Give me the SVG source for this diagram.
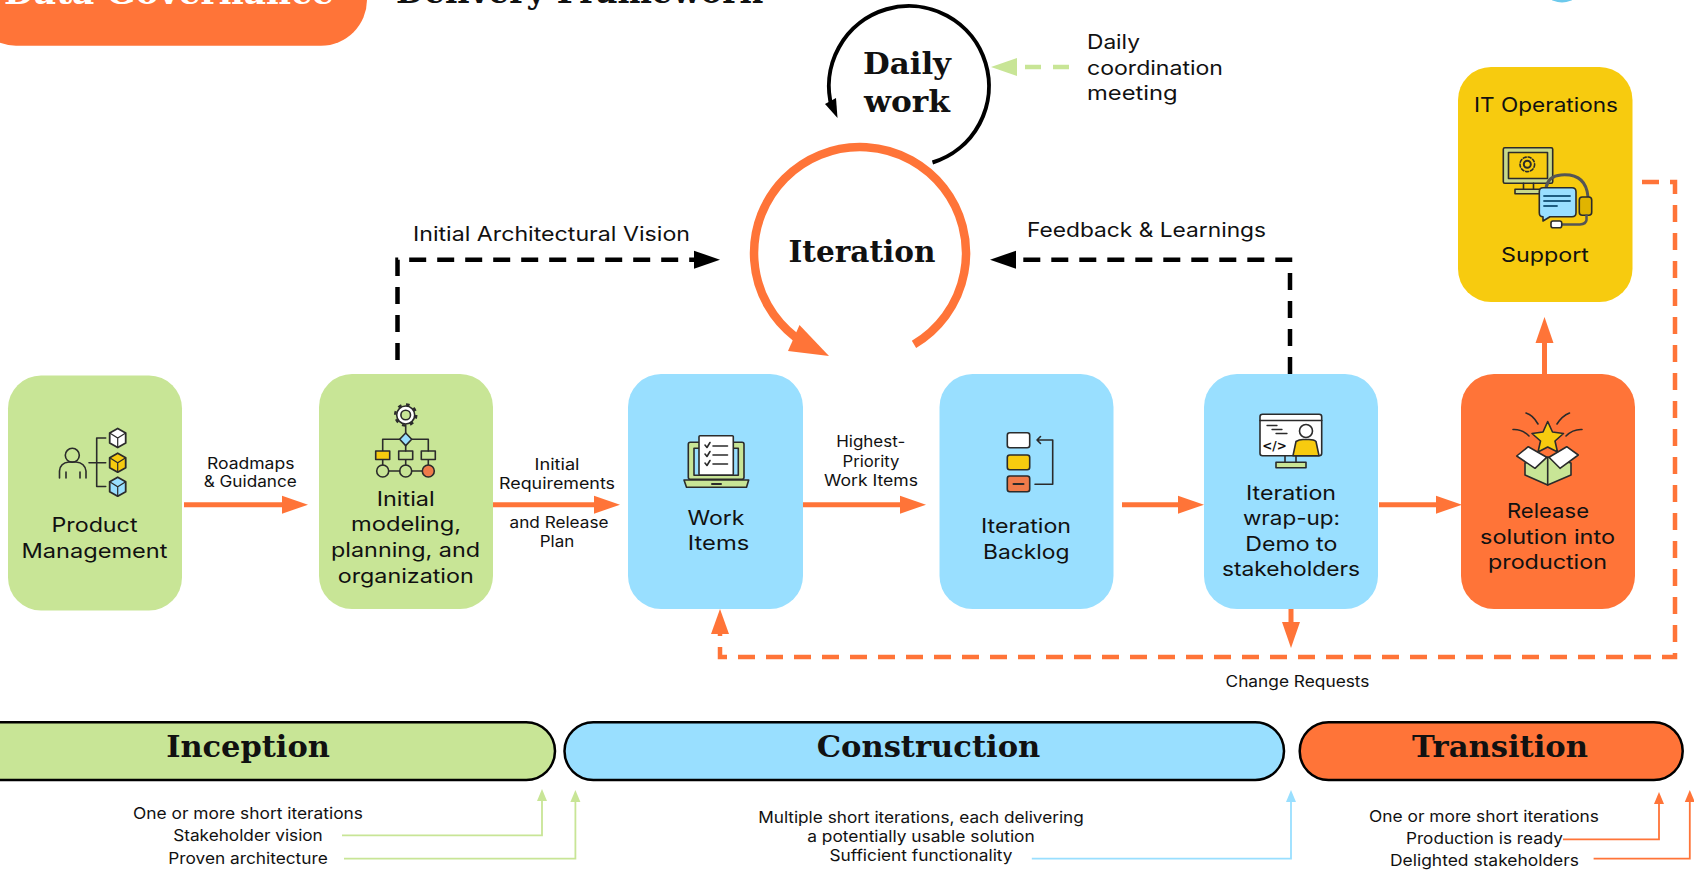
<svg xmlns="http://www.w3.org/2000/svg" xmlns:xlink="http://www.w3.org/1999/xlink" width="1694" height="870" viewBox="0 0 1694 870">
<style>
text{font-family:"Inter","Liberation Sans",sans-serif;fill:#111;text-anchor:middle;transform:translateY(-1px)}
.l{font-size:20px}
.s{font-size:15.5px}
.f{font-size:16px}
.st{text-anchor:start}
.h{font-family:"DejaVu Serif","Liberation Serif",serif;font-weight:700;font-size:30px}
.ttl{font-size:33px}
.ic{stroke:#2b2b2b;stroke-width:1.6;fill:none;stroke-linecap:round;stroke-linejoin:round}
.main{stroke:#ff7438;stroke-width:5;fill:none}
.dash-o{stroke:#ff7438;stroke-width:4.5;fill:none;stroke-dasharray:17 11}
.dash-k{stroke:#000;stroke-width:4.5;fill:none;stroke-dasharray:17 11}
.thin{stroke-width:1.8;fill:none}
.phase{stroke:#000;stroke-width:2.5}
.green{fill:#c8e596}.blue{fill:#99dfff}.orange{fill:#ff7438}.yellow{fill:#f7cb0f}
</style>
<defs>
<marker id="hO" markerUnits="userSpaceOnUse" markerWidth="27" markerHeight="20" refX="0" refY="9.5" orient="auto"><path d="M0 .5 26 9.5 0 18.500z" fill="#ff7438"/></marker>
<marker id="hK" markerUnits="userSpaceOnUse" markerWidth="27" markerHeight="20" refX="0" refY="9.5" orient="auto"><path d="M0 .5 26 9.5 0 18.500z" fill="#000"/></marker>
<marker id="hG" markerUnits="userSpaceOnUse" markerWidth="27" markerHeight="20" refX="0" refY="9.5" orient="auto"><path d="M0 .5 26 9.5 0 18.500z" fill="#c8e596"/></marker>
<marker id="tG" markerUnits="userSpaceOnUse" markerWidth="13" markerHeight="12" refX="0" refY="5.500" orient="auto"><path d="M0 .5 12 5.500 0 10.500z" fill="#c8e596"/></marker>
<marker id="tB" markerUnits="userSpaceOnUse" markerWidth="13" markerHeight="12" refX="0" refY="5.500" orient="auto"><path d="M0 .5 12 5.500 0 10.500z" fill="#99dfff"/></marker>
<marker id="tO" markerUnits="userSpaceOnUse" markerWidth="13" markerHeight="12" refX="0" refY="5.500" orient="auto"><path d="M0 .5 12 5.500 0 10.500z" fill="#ff7438"/></marker>
<g id="cube"><path d="M0-9.500 8-5V5L0 9.500-8 5V-5z" stroke="#2b2b2b" stroke-width="1.800" stroke-linejoin="round"/><path d="M-8-5 0 0 8-5M0 0V9.500" fill="none" stroke="#2b2b2b" stroke-width="1.200"/></g>
</defs>

<g id="title">
<rect x="-30" y="-60" width="397" height="105.700" rx="46" class="orange"/>
<text class="h ttl" x="169" y="5" style="fill:#fff" textLength="330" lengthAdjust="spacingAndGlyphs">Data Governance</text>
<text class="h ttl" x="579" y="4" textLength="366" lengthAdjust="spacingAndGlyphs">Delivery Framework</text>
<circle cx="1562" cy="-20" r="22.500" fill="#6cc9ec"/>
</g>

<g id="connectors">
<path class="main" d="M184 504.700H282" marker-end="url(#hO)"/>
<path class="main" d="M493 504.700H594" marker-end="url(#hO)"/>
<path class="main" d="M803 504.700H900" marker-end="url(#hO)"/>
<path class="main" d="M1122 504.700H1178" marker-end="url(#hO)"/>
<path class="main" d="M1379 504.700H1436" marker-end="url(#hO)"/>
<path class="main" d="M1544.500 374V343" marker-end="url(#hO)"/>
<path class="main" d="M1291 609V622" marker-end="url(#hO)"/>
<path class="dash-o" d="M1642 182H1675V657H720V634"/>
<path d="M720 609 711 634H729z" fill="#ff7438"/>
<path class="dash-k" d="M397.500 360V259.700H694" marker-end="url(#hK)"/>
<path class="dash-k" d="M1290 374V259.700H1016" marker-end="url(#hK)"/>
<path d="M1069 67H1017" stroke="#c8e596" stroke-width="4.500" stroke-dasharray="16 12" fill="none" marker-end="url(#hG)"/>
<path d="M932.500 162.500A80 80 0 1 0 832 108" stroke="#000" stroke-width="4" fill="none"/>
<path d="M837.500 118 825 104 836 98z" fill="#000"/>
<path d="M914 344.300A106 106 0 1 0 795.700 337.300" stroke="#ff7438" stroke-width="8.500" fill="none"/>
<path d="M829 356 788 351 799.500 325z" fill="#ff7438"/>
<path class="thin" stroke="#c8e596" d="M342 835.300H542V801" marker-end="url(#tG)"/>
<path class="thin" stroke="#c8e596" d="M344 858.700H575.400V802" marker-end="url(#tG)"/>
<path class="thin" stroke="#99dfff" d="M1031.800 858.700H1291V802" marker-end="url(#tB)"/>
<path class="thin" stroke="#ff7438" d="M1563 839.300H1659V804" marker-end="url(#tO)"/>
<path class="thin" stroke="#ff7438" d="M1593.600 858.700H1689.800V802" marker-end="url(#tO)"/>
</g>

<g id="connector-labels">
<text class="s" x="250.700" y="470" textLength="87.500" lengthAdjust="spacingAndGlyphs">Roadmaps</text>
<text class="s" x="250.200" y="488.400" textLength="93" lengthAdjust="spacingAndGlyphs">&amp; Guidance</text>
<text class="s" x="557" y="470.700" textLength="45" lengthAdjust="spacingAndGlyphs">Initial</text>
<text class="s" x="557" y="489.700" textLength="116" lengthAdjust="spacingAndGlyphs">Requirements</text>
<text class="s" x="559" y="529" textLength="99" lengthAdjust="spacingAndGlyphs">and Release</text>
<text class="s" x="557" y="548" textLength="34.500" lengthAdjust="spacingAndGlyphs">Plan</text>
<text class="s" x="870.700" y="448.400" textLength="69" lengthAdjust="spacingAndGlyphs">Highest-</text>
<text class="s" x="871" y="468" textLength="57" lengthAdjust="spacingAndGlyphs">Priority</text>
<text class="s" x="871" y="486.700" textLength="94" lengthAdjust="spacingAndGlyphs">Work Items</text>
<text class="s" x="1297.500" y="688" textLength="144" lengthAdjust="spacingAndGlyphs">Change Requests</text>
<text class="l" x="551.500" y="241.700" textLength="277" lengthAdjust="spacingAndGlyphs">Initial Architectural Vision</text>
<text class="l" x="1146.500" y="237.700" textLength="239" lengthAdjust="spacingAndGlyphs">Feedback &amp; Learnings</text>
<text class="l st" x="1087" y="50" textLength="53" lengthAdjust="spacingAndGlyphs">Daily</text>
<text class="l st" x="1087" y="76" textLength="136" lengthAdjust="spacingAndGlyphs">coordination</text>
<text class="l st" x="1087" y="101" textLength="90.600" lengthAdjust="spacingAndGlyphs">meeting</text>
</g>

<g id="daily-work">
<text class="h" x="907" y="75" textLength="88" lengthAdjust="spacingAndGlyphs">Daily</text>
<text class="h" x="907" y="112.700" textLength="86" lengthAdjust="spacingAndGlyphs">work</text>
</g>
<g id="iteration">
<text class="h" x="862" y="262.700" textLength="147" lengthAdjust="spacingAndGlyphs">Iteration</text>
</g>

<g id="product-management">
<rect x="8" y="375.500" width="174" height="235" rx="33" class="green"/>
<g class="ic">
<circle cx="72.300" cy="455.300" r="7"/>
<path d="M59.500 478V471Q60 463 69 462H76Q85 463 86 471V478M66 472V478M80 472V478"/>
<path d="M105.700 438H96.700V486.500H105.700M89 462.700H105.700"/>
</g>
<use href="#cube" x="117.700" y="438" fill="#fff"/>
<use href="#cube" x="117.700" y="462.700" fill="#f7cb0f"/>
<use href="#cube" x="117.700" y="486.700" fill="#99dfff"/>
<text class="l" x="94.500" y="532.700" textLength="86" lengthAdjust="spacingAndGlyphs">Product</text>
<text class="l" x="94.500" y="559" textLength="146" lengthAdjust="spacingAndGlyphs">Management</text>
</g>

<g id="initial-modeling">
<rect x="319" y="374" width="174" height="235" rx="33" class="green"/>
<g class="ic">
<circle cx="405.700" cy="415" r="10.500" stroke-width="2.500" stroke-dasharray="3.600 4.650" stroke-linecap="butt"/>
<circle cx="405.700" cy="415" r="9" fill="#fff"/>
<circle cx="405.700" cy="415" r="4.800" fill="#c8e596"/>
<path d="M405.700 425V433M382.700 451V439.300H428.300V451M405.700 445V451M382.700 460V465M405.700 460V465M428.300 460V465M388.700 471H399.700M411.700 471H422.300"/>
<path d="M405.700 433 411.700 439.300 405.700 445.600 399.700 439.300z" fill="#99dfff"/>
<rect x="375.700" y="451" width="14" height="8.500" fill="#f7cb0f"/>
<rect x="398.700" y="451" width="14" height="8.500"/>
<rect x="421.300" y="451" width="14" height="8.500"/>
<circle cx="382.700" cy="471" r="6"/>
<circle cx="405.700" cy="471" r="6"/>
<circle cx="428.300" cy="471" r="6" fill="#ef7b4a"/>
</g>
<text class="l" x="405.700" y="506.700" textLength="58" lengthAdjust="spacingAndGlyphs">Initial</text>
<text class="l" x="406" y="532.300" textLength="110" lengthAdjust="spacingAndGlyphs">modeling,</text>
<text class="l" x="405.500" y="558.300" textLength="149" lengthAdjust="spacingAndGlyphs">planning, and</text>
<text class="l" x="405.700" y="584" textLength="136" lengthAdjust="spacingAndGlyphs">organization</text>
</g>

<g id="work-items">
<rect x="628" y="374" width="175" height="235" rx="33" class="blue"/>
<g class="ic">
<rect x="688.300" y="442.300" width="55.700" height="37" rx="2" fill="#c8e596"/>
<rect x="694" y="448.300" width="44.300" height="27" fill="#99dfff"/>
<path d="M684 480H748.700L746.500 487.300H686.500z" fill="#c8e596"/>
<path d="M712 484H721" stroke-width="2"/>
<rect x="699" y="435.700" width="34.300" height="39.300" rx="1" fill="#fff"/>
<path d="M705 445 707 447.500 710 442.500M705 454 707 456.500 710 451.500M705 463 707 465.500 710 460.500M713 446H727.500M713 455H727.500M713 464H727.500"/>
</g>
<text class="l" x="716" y="526" textLength="57" lengthAdjust="spacingAndGlyphs">Work</text>
<text class="l" x="718.500" y="551" textLength="61.500" lengthAdjust="spacingAndGlyphs">Items</text>
</g>

<g id="iteration-backlog">
<rect x="939.500" y="374" width="174" height="235" rx="33" class="blue"/>
<g class="ic">
<rect x="1007.300" y="432.700" width="22.400" height="15" rx="2.500" fill="#fff"/>
<rect x="1007.300" y="455" width="22.400" height="14.700" rx="2.500" fill="#f7cb0f"/>
<rect x="1007.300" y="476" width="22.400" height="15.700" rx="2.500" fill="#ef7b4a"/>
<path d="M1013.500 484H1023.500" stroke-width="2"/>
<path d="M1035 484.300H1052.700V440H1037M1040.500 436.500 1037 440 1040.500 443.500"/>
</g>
<text class="l" x="1026" y="534" textLength="90" lengthAdjust="spacingAndGlyphs">Iteration</text>
<text class="l" x="1026.300" y="560" textLength="86.500" lengthAdjust="spacingAndGlyphs">Backlog</text>
</g>

<g id="iteration-wrap-up">
<rect x="1204" y="374" width="174" height="235" rx="33" class="blue"/>
<g class="ic">
<path d="M1285 456V462.300M1296 456V462.300"/>
<rect x="1276" y="462.300" width="30" height="5.500" fill="#c8e596"/>
<rect x="1260" y="414.300" width="61.700" height="41.400" rx="2.500" fill="#fff"/>
<path d="M1260 420.500H1321.700"/>
<path d="M1267 425.500H1277M1272 429.500H1282M1276 433.500H1287" stroke-width="1.300"/>
<path d="M1293 455.700 1296 441.500Q1299 439.500 1303 439.500H1309Q1314 439.500 1316 441.500L1319 455.700z" fill="#f7cb0f"/>
<circle cx="1306" cy="431" r="6.500" fill="#fff"/>
</g>
<text x="1274.500" y="451" style="font-size:12px;font-weight:700;font-family:'DejaVu Sans',sans-serif">&lt;/&gt;</text>
<text class="l" x="1291" y="501" textLength="90" lengthAdjust="spacingAndGlyphs">Iteration</text>
<text class="l" x="1291.500" y="526" textLength="97" lengthAdjust="spacingAndGlyphs">wrap-up:</text>
<text class="l" x="1291.300" y="552" textLength="92" lengthAdjust="spacingAndGlyphs">Demo to</text>
<text class="l" x="1291" y="577" textLength="138" lengthAdjust="spacingAndGlyphs">stakeholders</text>
</g>

<g id="release">
<rect x="1461" y="374" width="174" height="235" rx="33" class="orange"/>
<g class="ic">
<path d="M1526 413Q1533 415 1538 424M1569.500 413Q1562 416 1557 424M1513 429.500Q1522 429 1529 436M1582 429.500Q1573 429 1566 436"/>
<path d="M1547.700 457 1525 463V475L1547.700 485 1571 475V463z" fill="#c8e596"/>
<path d="M1547.700 458V485"/>
<path d="M1516.700 456 1528.300 446.700 1546.700 457.300 1535 468.300z" fill="#fff"/>
<path d="M1578.300 455 1566.700 446.700 1549 457.300 1560 468.300z" fill="#fff"/>
<path d="M1547.700 421.500 1552.500 432 1563.500 433.500 1555 441 1557.500 452 1547.700 447 1538 452 1540.500 441 1532 433.500 1543 432z" fill="#f7cb0f"/>
</g>
<text class="l" x="1548" y="519" textLength="82" lengthAdjust="spacingAndGlyphs">Release</text>
<text class="l" x="1547.500" y="545" textLength="135" lengthAdjust="spacingAndGlyphs">solution into</text>
<text class="l" x="1547.500" y="570" textLength="119" lengthAdjust="spacingAndGlyphs">production</text>
</g>

<g id="it-operations">
<rect x="1458" y="67" width="174.500" height="235" rx="33" class="yellow"/>
<g class="ic">
<rect x="1503.300" y="147.700" width="49.400" height="35.600" rx="1.500" fill="#c8d98a"/>
<rect x="1508.500" y="152.500" width="39" height="26" fill="#f7cb0f"/>
<circle cx="1527.300" cy="164.300" r="7.300" stroke-dasharray="3 2"/>
<circle cx="1527.300" cy="164.300" r="3.500" stroke-width="2"/>
<path d="M1523.500 183.300V189.300M1533.500 183.300V189.300"/>
<rect x="1515" y="189.300" width="28.300" height="4.500" fill="#c8d98a"/>
<path d="M1546 188Q1548 176 1561 175Q1586 173 1588 197" stroke="#555" stroke-width="3"/>
<rect x="1579.300" y="197" width="12.400" height="18.300" rx="3" fill="#e0b400"/>
<path d="M1586.500 215.300V220Q1586 224 1580 224.500H1562" stroke="#555" stroke-width="2.500"/>
<rect x="1551" y="221" width="10.700" height="6.700" rx="2" fill="#fff"/>
<path d="M1543 187.700H1572Q1576 187.700 1576 191.700V212.700Q1576 216.700 1572 216.700H1550L1543 221V216.700Q1539.300 216.700 1539.300 212.700V191.700Q1539.300 187.700 1543 187.700z" fill="#99dfff"/>
<path d="M1544 196H1570M1544 201H1570M1544 206H1557" stroke="#1d5c80" stroke-width="1.800"/>
</g>
<text class="l" x="1546" y="112.700" textLength="144" lengthAdjust="spacingAndGlyphs">IT Operations</text>
<text class="l" x="1545" y="263" textLength="88" lengthAdjust="spacingAndGlyphs">Support</text>
</g>

<g id="phase-inception">
<rect x="-30" y="722.300" width="585" height="57.700" rx="28.800" class="green phase"/>
<text class="h" x="248" y="758.300" textLength="163.700" lengthAdjust="spacingAndGlyphs">Inception</text>
<text class="f" x="248" y="820" textLength="230" lengthAdjust="spacingAndGlyphs">One or more short iterations</text>
<text class="f" x="248" y="842" textLength="149.600" lengthAdjust="spacingAndGlyphs">Stakeholder vision</text>
<text class="f" x="248" y="865" textLength="159.400" lengthAdjust="spacingAndGlyphs">Proven architecture</text>
</g>
<g id="phase-construction">
<rect x="564.500" y="722.300" width="719.500" height="57.700" rx="28.800" class="blue phase"/>
<text class="h" x="928.500" y="758.300" textLength="223.600" lengthAdjust="spacingAndGlyphs">Construction</text>
<text class="f" x="921" y="824" textLength="325.600" lengthAdjust="spacingAndGlyphs">Multiple short iterations, each delivering</text>
<text class="f" x="921" y="843.300" textLength="227.500" lengthAdjust="spacingAndGlyphs">a potentially usable solution</text>
<text class="f" x="921" y="862.300" textLength="183" lengthAdjust="spacingAndGlyphs">Sufficient functionality</text>
</g>
<g id="phase-transition">
<rect x="1299.700" y="722.300" width="383" height="57.700" rx="28.800" class="orange phase"/>
<text class="h" x="1500" y="758.300" textLength="176" lengthAdjust="spacingAndGlyphs">Transition</text>
<text class="f" x="1484" y="823.300" textLength="230" lengthAdjust="spacingAndGlyphs">One or more short iterations</text>
<text class="f" x="1484.500" y="845" textLength="157" lengthAdjust="spacingAndGlyphs">Production is ready</text>
<text class="f" x="1484.500" y="867" textLength="189" lengthAdjust="spacingAndGlyphs">Delighted stakeholders</text>
</g>
</svg>
